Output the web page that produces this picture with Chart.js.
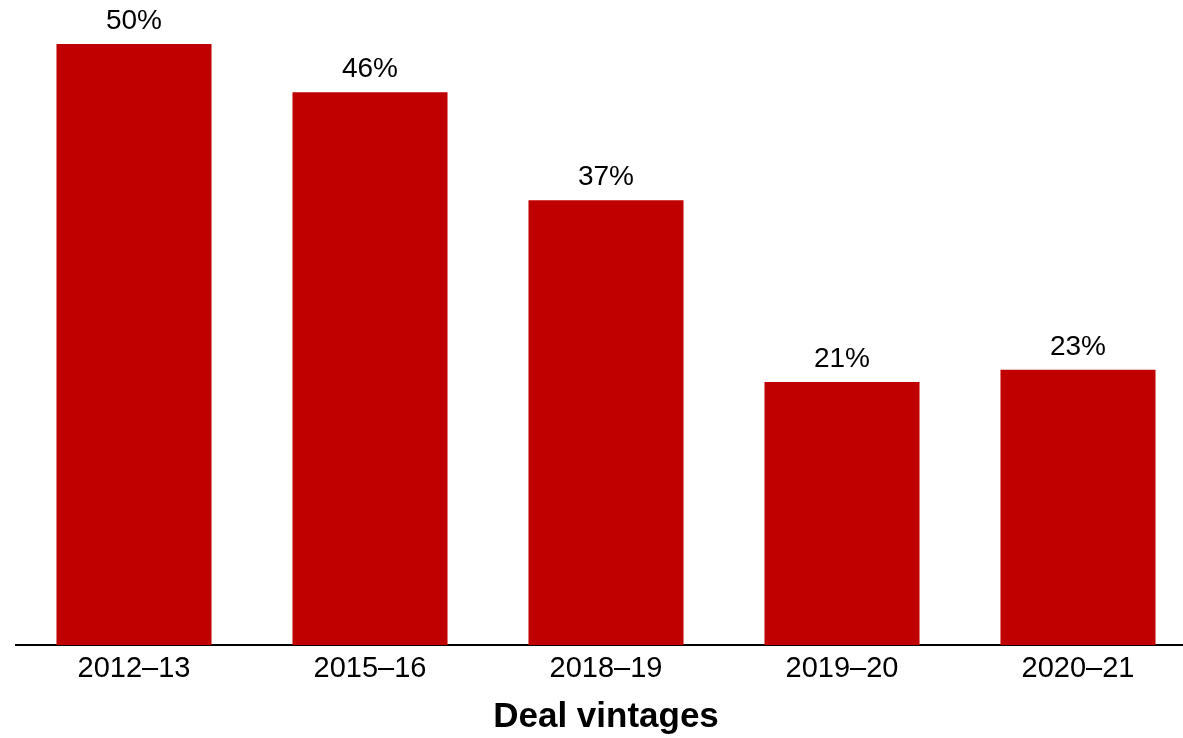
<!DOCTYPE html>
<html>

<head>
  <title>Deal vintages</title>
  <script src="https://cdn.jsdelivr.net/npm/chart.js"></script>
  <style>
    body { margin: 0; overflow: hidden; background: #fff; }
  </style>
</head>

<body>
  <canvas id="dealChart" width="1196" height="738"></canvas>

  <script>
    const vintages = ['2012–13', '2015–16', '2018–19', '2019–20', '2020–21'];
    const shares = [50, 46, 37, 21.9, 22.9];
    const shareLabels = ['50%', '46%', '37%', '21%', '23%'];

    // draws the % above each bar
    const barLabels = {
      id: 'barLabels',
      afterDatasetsDraw(chart) {
        const ctx = chart.ctx;
        const meta = chart.getDatasetMeta(0);
        ctx.save();
        ctx.font = '28px "Liberation Sans", Arial, sans-serif';
        ctx.fillStyle = '#000';
        ctx.textAlign = 'center';
        ctx.textBaseline = 'bottom';
        meta.data.forEach((bar, i) => {
          ctx.fillText(shareLabels[i], bar.x, bar.y - 9);
        });
        ctx.restore();
      }
    };

    const ctx = document.getElementById('dealChart').getContext('2d');
    const dealChart = new Chart(ctx, {
      type: 'bar',
      data: {
        labels: vintages,
        datasets: [
          {
            data: shares,
            backgroundColor: '#C00000',
            barPercentage: 0.657,
            categoryPercentage: 1.0,
          }
        ]
      },
      options: {
        responsive: false,
        animation: false,
        layout: {
          padding: { top: 20, left: 16, right: 0, bottom: 0 }
        },
        plugins: {
          legend: { display: false },
          tooltip: { enabled: false },
        },
        scales: {
          x: {
            grid: { display: false },
            border: { display: true, color: '#000', width: 2 },
            ticks: {
              color: '#000',
              padding: -2,
              font: { family: '"Liberation Sans", Arial, sans-serif', size: 29 }
            },
            title: {
              display: true,
              text: 'Deal vintages',
              color: '#000',
              padding: { top: 12, bottom: 0 },
              font: { family: '"Liberation Sans", Arial, sans-serif', size: 35, weight: 'bold' }
            }
          },
          y: {
            display: false,
            min: 0,
            max: 52,
          }
        }
      },
      plugins: [barLabels]
    });
  </script>
</body>

</html>
